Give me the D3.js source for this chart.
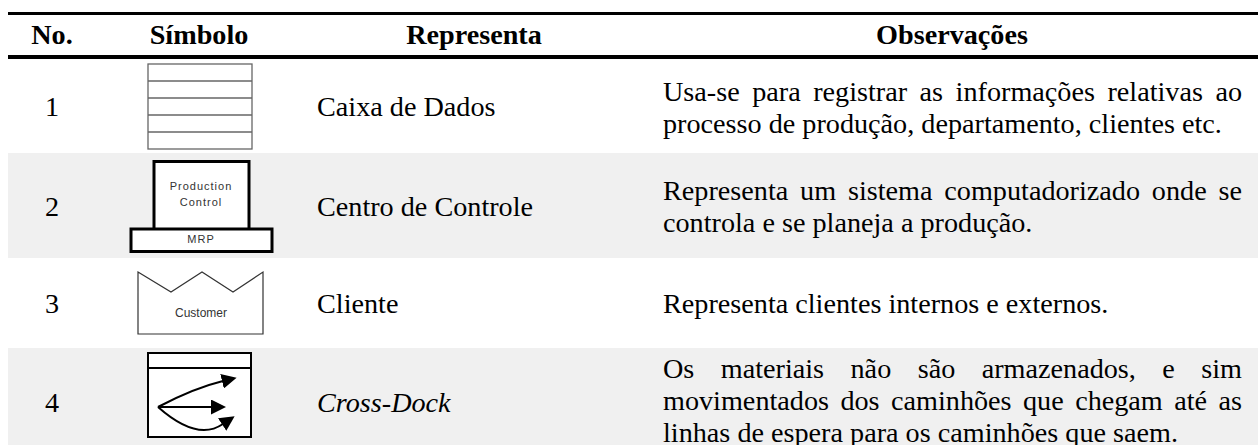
<!DOCTYPE html>
<html>
<head>
<meta charset="utf-8">
<script src="https://cdn.jsdelivr.net/npm/d3@7"></script>
<style>
html,body{margin:0;padding:0;background:#fff;}
svg{display:block;}
text{font-family:"Liberation Serif",serif;fill:#000;}
.sym text{font-family:"Liberation Sans",Arial,sans-serif;fill:#333;}
</style>
</head>
<body>
<svg width="1258" height="445"></svg>
<script>
const svg = d3.select('svg');

const headers = ['No.', 'Símbolo', 'Representa', 'Observações'];
const numbers = ['1', '2', '3', '4'];
const names = ['Caixa de Dados', 'Centro de Controle', 'Cliente', 'Cross-Dock'];
const notes = [
  [['Usa-se para registrar as informações relativas ao', true], ['processo de produção, departamento, clientes etc.', false]],
  [['Representa um sistema computadorizado onde se', true], ['controla e se planeja a produção.', false]],
  [['Representa clientes internos e externos.', false]],
  [['Os materiais não são armazenados, e sim', true], ['movimentados dos caminhões que chegam até as', true], ['linhas de espera para os caminhões que saem.', false]]
];
const rowKeys = [0, 1, 2, 3];
const rowTops = [59, 153, 258, 348];
const rowBottoms = [153, 258, 348, 445];
const rowBaselines = [116, 215.5, 313, 411.5];
const noteBaselines = [[100.5, 132.5], [200, 232], [313], [378, 410, 442]];

const rowTop = d3.scaleOrdinal(rowKeys, rowTops);
const rowBottom = d3.scaleOrdinal(rowKeys, rowBottoms);
const rowBase = d3.scaleOrdinal(rowKeys, rowBaselines);
const colX = d3.scaleOrdinal(['no', 'sym', 'rep', 'obs', 'name', 'note', 'end'], [52, 199, 474, 952, 317, 663, 1242]);

const tableLeft = 8, tableRight = 1258;
const fontSize = 28.2;

// grey bands on even rows
svg.selectAll('rect.band').data([1, 3]).enter().append('rect')
  .attr('class', 'band')
  .attr('x', tableLeft).attr('width', tableRight - tableLeft)
  .attr('y', d => rowTop(d))
  .attr('height', d => rowBottom(d) - rowTop(d))
  .attr('fill', '#f0f0f0');

// rules
svg.append('rect').attr('x', tableLeft).attr('y', 12).attr('width', tableRight - tableLeft).attr('height', 3).attr('fill', '#000');
svg.append('rect').attr('x', tableLeft).attr('y', 55).attr('width', tableRight - tableLeft).attr('height', 4).attr('fill', '#000');

// header
svg.selectAll('text.head').data(headers).enter().append('text')
  .attr('class', 'head')
  .attr('x', (d, i) => colX(['no', 'sym', 'rep', 'obs'][i]))
  .attr('y', 44)
  .attr('text-anchor', 'middle')
  .attr('font-weight', 'bold')
  .attr('font-size', fontSize)
  .text(d => d);

svg.selectAll('text.num').data(numbers).enter().append('text')
  .attr('class', 'num')
  .attr('x', colX('no'))
  .attr('y', (d, i) => rowBase(i))
  .attr('text-anchor', 'middle')
  .attr('font-size', fontSize)
  .text(d => d);

svg.selectAll('text.name').data(names).enter().append('text')
  .attr('class', 'name')
  .attr('x', colX('name'))
  .attr('y', (d, i) => rowBase(i))
  .attr('font-size', fontSize)
  .attr('font-style', (d, i) => i === 3 ? 'italic' : 'normal')
  .text(d => d);

// observation lines, justified ones get stretched to the right edge
const noteWidth = colX('end') - colX('note');
notes.forEach((lines, r) => {
  lines.forEach((line, l) => {
    const t = svg.append('text')
      .attr('class', 'note')
      .attr('x', colX('note'))
      .attr('y', noteBaselines[r][l])
      .attr('font-size', fontSize)
      .text(line[0]);
    if (line[1]) {
      const gaps = line[0].split(' ').length - 1;
      const extra = (noteWidth - t.node().getComputedTextLength()) / gaps;
      t.attr('word-spacing', extra);
    }
  });
});

// symbols, drawn in local coordinates around the symbol column
const sym = svg.append('g').attr('class', 'sym').attr('transform', `translate(${colX('sym')},0)`);

// 1 data box
const box1 = sym.append('g').attr('fill', 'none').attr('stroke', '#666').attr('stroke-width', 1.3);
box1.append('rect').attr('x', -51).attr('y', 64).attr('width', 104).attr('height', 85).attr('fill', '#fff');
box1.selectAll('line').data([81, 98, 115, 132]).enter().append('line')
  .attr('x1', -51).attr('x2', 53).attr('y1', d => d).attr('y2', d => d);

// 2 control centre
const ctrl = sym.append('g');
ctrl.append('rect').attr('x', -45).attr('y', 161.5).attr('width', 95).attr('height', 68)
  .attr('fill', '#fff').attr('stroke', '#000').attr('stroke-width', 3);
ctrl.append('rect').attr('x', -68).attr('y', 229).attr('width', 141).attr('height', 22.5)
  .attr('fill', '#fff').attr('stroke', '#000').attr('stroke-width', 3);
ctrl.selectAll('text').data([['Production', 190], ['Control', 206], ['MRP', 243]]).enter().append('text')
  .attr('x', 2).attr('y', d => d[1]).attr('text-anchor', 'middle').attr('font-size', 11)
  .attr('letter-spacing', 1).text(d => d[0]);

// 3 customer
const cust = sym.append('g');
cust.append('path').attr('d', 'M-61,272L-28,292L3,272L34,292L64,272V334H-61Z')
  .attr('fill', '#fff').attr('stroke', '#333').attr('stroke-width', 1.2);
cust.append('text').attr('x', 2).attr('y', 317).attr('text-anchor', 'middle').attr('font-size', 12).text('Customer');

// 4 cross-dock
svg.append('defs').append('marker').attr('id', 'head')
  .attr('viewBox', '0 0 15 15').attr('refX', 1).attr('refY', 7.5)
  .attr('markerWidth', 15).attr('markerHeight', 15).attr('orient', 'auto').attr('markerUnits', 'userSpaceOnUse')
  .append('path').attr('d', 'M0,0L15,7.5L0,15Z').attr('fill', '#000');
const dock = sym.append('g');
dock.append('rect').attr('x', -51).attr('y', 353).attr('width', 103).attr('height', 84)
  .attr('fill', '#fff').attr('stroke', '#000').attr('stroke-width', 2);
dock.append('line').attr('x1', -51).attr('x2', 52).attr('y1', 368).attr('y2', 368).attr('stroke', '#000').attr('stroke-width', 2);
dock.selectAll('path.arrow').data([
  'M-41,407Q-5,388 24,381',
  'M-41,407H13',
  'M-41,407Q-15,430 5,430Q15,430 24,424'
]).enter().append('path').attr('class', 'arrow')
  .attr('d', d => d).attr('fill', 'none').attr('stroke', '#000').attr('stroke-width', 2)
  .attr('marker-end', 'url(#head)');
</script>
</body>
</html>
